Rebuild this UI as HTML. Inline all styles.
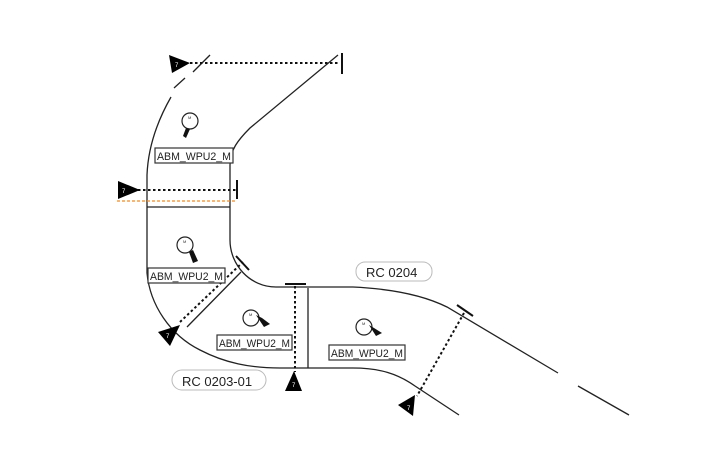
<!DOCTYPE html>
<html><head><meta charset="utf-8"><style>
html,body{margin:0;padding:0;background:#fff;}
svg{display:block;}
text{font-family:"Liberation Sans",sans-serif;}
</style></head><body>
<svg width="719" height="476" viewBox="0 0 719 476" xmlns="http://www.w3.org/2000/svg">
<rect width="719" height="476" fill="#fff"/>
<g fill="none" stroke="#222" stroke-width="1.3">
<path d="M210,55 L193,72"/>
<path d="M185,78 L174,88"/>
<path d="M171,97 C155,125 148,150 147,175 L147,273 C150,305 170,335 200,350 C225,363 250,368 280,368 L353,368 C380,368 398,374 415,386 L459,415"/>
<path d="M338,55 L250,128 C238,140 230,150 230,165 L230,240 C230,265 250,287 276,287 L353,287 C395,289 425,296 447,307 L558,373"/>
<path d="M578,386 L629,415"/>
<path d="M147,207 L230,207"/>
<path d="M187,327 L241,272"/>
<path d="M308,288 L308,368"/>
</g>
<g fill="none" stroke="#111" stroke-width="2" stroke-dasharray="2.5,2.5">
<path d="M190,63 L340,63"/>
<path d="M138,190 L236,190"/>
<path d="M180,322 L243,262"/>
<path d="M295,286 L295,372"/>
<path d="M464,313 L417,396"/>
</g>
<path d="M117,201 L237,201" stroke="#f08a24" stroke-width="1.3" stroke-dasharray="3,2"/>
<g stroke="#111" stroke-width="2">
<path d="M342,53 L342,74"/>
<path d="M237,180 L237,199"/>
<path d="M236,256 L249,270"/>
<path d="M285,284 L306,284"/>
<path d="M457,305 L473,316"/>
</g>
<g fill="#000">
<polygon points="169,55 190,63 172,73"/>
<polygon points="118,181 140,190 118,199"/>
<polygon points="158,332 180,325 170,346"/>
<polygon points="294,371 302,391 285,391"/>
<polygon points="398,405 415,395 413,416"/>
</g>
<g fill="#fff" font-size="6">
<text x="175" y="67">7</text><text x="122" y="193">7</text><text x="166" y="338">7</text><text x="292" y="387">7</text><text x="407" y="410">7</text>
</g>
<g stroke="#222" fill="#fff" stroke-width="1.2">
<circle cx="190" cy="121" r="8"/>
<circle cx="185" cy="245" r="8"/>
<circle cx="251" cy="318" r="8"/>
<circle cx="364" cy="327" r="8"/>
</g>
<g fill="#111">
<polygon points="186,128 190,129 186,138 183,136"/>
<polygon points="189,252 193,250 198,261 193,263"/>
<polygon points="256,315 262,318 270,324 264,327"/>
<polygon points="369,325 374,328 382,333 376,336"/>
</g>
<g font-size="4" fill="#333">
<text x="188" y="119">M</text><text x="183" y="243">M</text><text x="249" y="316">M</text><text x="362" y="325">M</text>
</g>
<g stroke="#333" stroke-width="1.2" fill="#fff">
<rect x="155" y="148" width="78" height="15"/>
<rect x="148" y="268" width="77" height="15"/>
<rect x="217" y="335" width="75" height="15"/>
<rect x="329" y="345" width="76" height="15"/>
</g>
<g font-size="11" fill="#222">
<text x="157" y="160" textLength="74" lengthAdjust="spacingAndGlyphs">ABM_WPU2_M</text>
<text x="150" y="280" textLength="73" lengthAdjust="spacingAndGlyphs">ABM_WPU2_M</text>
<text x="219" y="347" textLength="71" lengthAdjust="spacingAndGlyphs">ABM_WPU2_M</text>
<text x="331" y="357" textLength="72" lengthAdjust="spacingAndGlyphs">ABM_WPU2_M</text>
</g>
<g stroke="#bbb" fill="#fff" stroke-width="1">
<rect x="356" y="262" width="76" height="19" rx="9"/>
<rect x="172" y="370" width="94" height="20" rx="10"/>
</g>
<g font-size="13" fill="#222">
<text x="366" y="277">RC 0204</text>
<text x="182" y="386">RC 0203-01</text>
</g>
</svg>
</body></html>
